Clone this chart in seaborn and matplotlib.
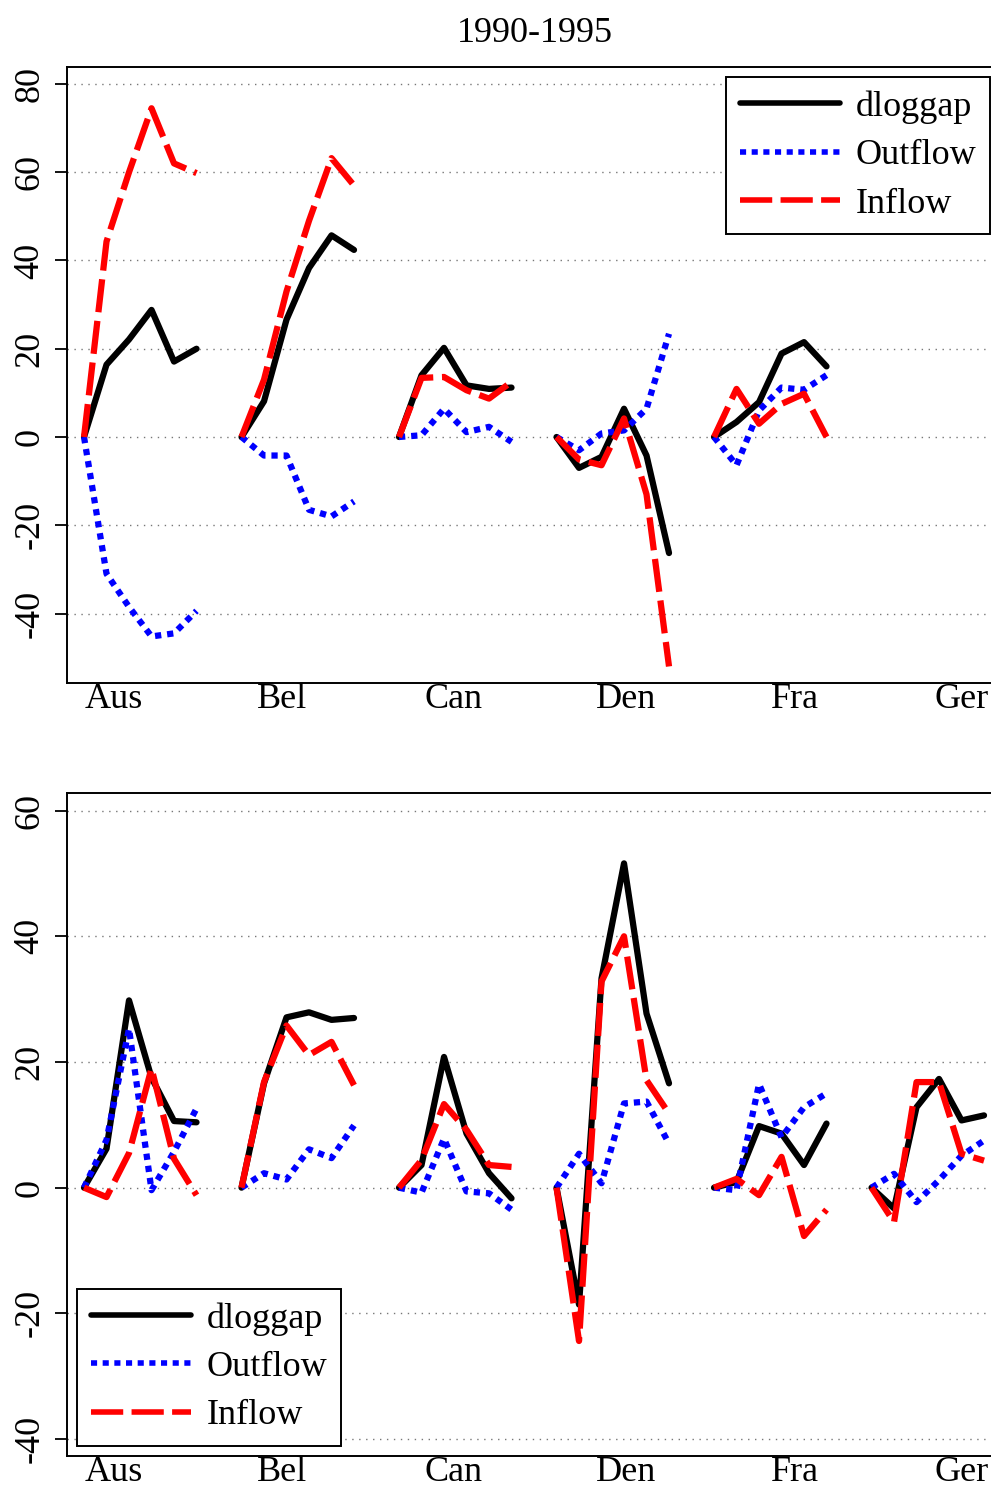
import numpy as np
import pandas as pd
import matplotlib
matplotlib.use("Agg")
import matplotlib.pyplot as plt
from matplotlib.lines import Line2D
import seaborn as sns

sns.set_style("white")
plt.rcParams['font.family'] = ['Liberation Serif', 'DejaVu Serif']
plt.rcParams['text.color'] = 'black'
plt.rcParams['xtick.color'] = 'black'
plt.rcParams['ytick.color'] = 'black'
plt.rcParams['axes.labelcolor'] = 'black'

countries = ["Aus", "Bel", "Can", "Den", "Fra", "Ger"]
years = [1990, 1991, 1992, 1993, 1994, 1995]
series_names = ["dloggap", "Outflow", "Inflow"]

# ---- top panel (1990-1995) ----
top_dloggap = {
    "Aus": [0, 16.4, 22.1, 28.8, 17.1, 20.0],
    "Bel": [0, 8.1, 26.6, 38.3, 45.7, 42.4],
    "Can": [0, 14.0, 20.2, 11.7, 10.9, 11.2],
    "Den": [0, -7.0, -4.5, 6.4, -4.2, -26.3],
    "Fra": [0, 3.4, 7.9, 18.9, 21.5, 16.0],
    "Ger": [np.nan] * 6,
}
top_outflow = {
    "Aus": [0, -31.0, -38.5, -45.2, -44.5, -39.4],
    "Bel": [0, -4.2, -4.2, -16.5, -18.0, -14.6],
    "Can": [0, 0.4, 6.4, 1.1, 2.3, -1.1],
    "Den": [0, -3.0, 0.8, 1.5, 6.4, 23.4],
    "Fra": [0, -6.4, 6.0, 11.2, 10.7, 14.0],
    "Ger": [np.nan] * 6,
}
top_inflow = {
    "Aus": [0, 44.3, 60.0, 74.5, 62.0, 59.8],
    "Bel": [0, 13.0, 33.0, 49.0, 63.2, 57.0],
    "Can": [0, 13.4, 13.6, 10.6, 8.7, 12.5],
    "Den": [0, -5.1, -6.4, 4.2, -13.0, -52.0],
    "Fra": [0, 10.9, 3.0, 7.5, 9.8, 0.0],
    "Ger": [np.nan] * 6,
}

# ---- bottom panel ----
bot_dloggap = {
    "Aus": [0, 6.2, 29.8, 17.5, 10.6, 10.4],
    "Bel": [0, 16.6, 27.1, 27.9, 26.7, 27.0],
    "Can": [0, 3.6, 20.8, 8.6, 2.3, -1.7],
    "Den": [0, -18.6, 33.3, 51.6, 27.7, 16.6],
    "Fra": [0, 0.9, 9.8, 8.6, 3.6, 10.2],
    "Ger": [0, -3.3, 12.8, 17.3, 10.7, 11.5],
}
bot_outflow = {
    "Aus": [0, 7.6, 25.3, -0.4, 5.7, 12.6],
    "Bel": [0, 2.3, 1.3, 6.1, 4.7, 9.9],
    "Can": [0, -0.8, 7.8, -0.6, -0.9, -3.5],
    "Den": [0, 5.4, 0.7, 13.4, 13.7, 7.0],
    "Fra": [0, -0.4, 16.5, 8.0, 12.8, 15.0],
    "Ger": [0, 2.2, -2.3, 1.2, 5.1, 7.5],
}
bot_inflow = {
    "Aus": [0, -1.5, 5.5, 19.0, 4.6, -1.2],
    "Bel": [0, 16.8, 25.8, 21.1, 23.2, 16.3],
    "Can": [0, 4.4, 13.3, 9.2, 3.6, 3.3],
    "Den": [0, -24.4, 32.8, 40.0, 17.1, 11.8],
    "Fra": [0, 1.4, -1.2, 4.9, -7.7, -3.5],
    "Ger": [0, -5.5, 16.8, 16.8, 5.4, 4.3],
}

top_yticks = [-40, -20, 0, 20, 40, 60, 80]
bot_yticks = [-40, -20, 0, 20, 40, 60]
title_text = "1990-1995"


def build_df(dl, out, inn):
    rows = []
    for ci, c in enumerate(countries):
        for yi, yr in enumerate(years):
            for name, d in zip(series_names, [dl, out, inn]):
                v = d[c][yi]
                if not np.isnan(v):
                    rows.append({"country": c, "x": ci * 7 + yi, "year": yr,
                                 "series": name, "value": v})
    return pd.DataFrame(rows)


palette = {"dloggap": "black", "Outflow": "#0000FF", "Inflow": "#FF0000"}
DOT = (1.0, 0.95)
DASH = (5.3, 1.4)
dashes = {"dloggap": "", "Outflow": DOT, "Inflow": DASH}
LW = 4.5
FS = 26

W, H = 991, 1487
fig = plt.figure(figsize=(W / 100, H / 100), dpi=100)

tick_pos = [1.3, 8.8, 16.4, 24.1, 31.6, 39.0]
xlim = (-0.756, 40.31)

panels = [
    (build_df(top_dloggap, top_outflow, top_inflow), (67, 683), (-55.75, 83.85), top_yticks),
    (build_df(bot_dloggap, bot_outflow, bot_inflow), (793, 1456), (-42.7, 62.8), bot_yticks),
]

axes = []
for df, (ytop, ybot), ylim, yt in panels:
    ax = fig.add_axes([67 / W, 1 - ybot / H, 1 - 67 / W, (ybot - ytop) / H])
    for yv in yt:
        ax.axhline(yv, color="#777777", lw=1.0, ls=(0, (1, 4)), zorder=0)
    n_before = len(ax.lines)
    sns.lineplot(data=df, x="x", y="value", hue="series", style="series",
                 units="country", estimator=None, palette=palette,
                 dashes=dashes, hue_order=series_names, style_order=series_names,
                 linewidth=LW, legend=False, ax=ax, zorder=3)
    for l in ax.lines[n_before:]:
        l.set_linewidth(LW)
        l.set_dash_capstyle("butt")
        l.set_solid_capstyle("round")
    ax.set_xlim(*xlim)
    ax.set_ylim(*ylim)
    ax.set_xticks(tick_pos)
    ax.set_xticklabels(countries, fontsize=FS)
    ax.set_yticks(yt)
    ax.set_yticklabels([str(v) for v in yt], fontsize=FS, rotation=90, va="center")
    ax.tick_params(axis="x", length=0, pad=0)
    ax.tick_params(axis="y", length=9, width=1.3, pad=6, color="black", direction="out", left=True)
    ax.set_xlabel("")
    ax.set_ylabel("")
    for s in ["top", "left", "bottom"]:
        ax.spines[s].set_visible(True)
        ax.spines[s].set_color("black")
        ax.spines[s].set_linewidth(1.4)
    ax.spines["right"].set_visible(False)
    axes.append(ax)

HLW = 4.0
handles = [
    Line2D([], [], color="black", lw=HLW, ls="-"),
    Line2D([], [], color="#0000FF", lw=HLW, ls=(0, (1.1, 1.0)), dash_capstyle="butt"),
    Line2D([], [], color="#FF0000", lw=HLW, ls=(0, (5.8, 1.5)), dash_capstyle="butt"),
]

leg_kw = dict(fontsize=FS, handlelength=2.77, handletextpad=0.44, borderpad=0.375,
              labelspacing=0.42, borderaxespad=0, fancybox=False, framealpha=1,
              edgecolor="black")
leg1 = axes[0].legend(handles, series_names, loc="upper left",
                      bbox_to_anchor=(726 / W, 1 - 77 / H),
                      bbox_transform=fig.transFigure, **leg_kw)
leg1.get_frame().set_linewidth(1.4)
leg2 = axes[1].legend(handles, series_names, loc="lower left",
                      bbox_to_anchor=(77 / W, 1 - 1446 / H),
                      bbox_transform=fig.transFigure, **leg_kw)
leg2.get_frame().set_linewidth(1.4)

fig.text(535 / W, 1 - 33 / H, title_text, ha="center", va="center", fontsize=FS)

fig.savefig("out.png", dpi=100)
